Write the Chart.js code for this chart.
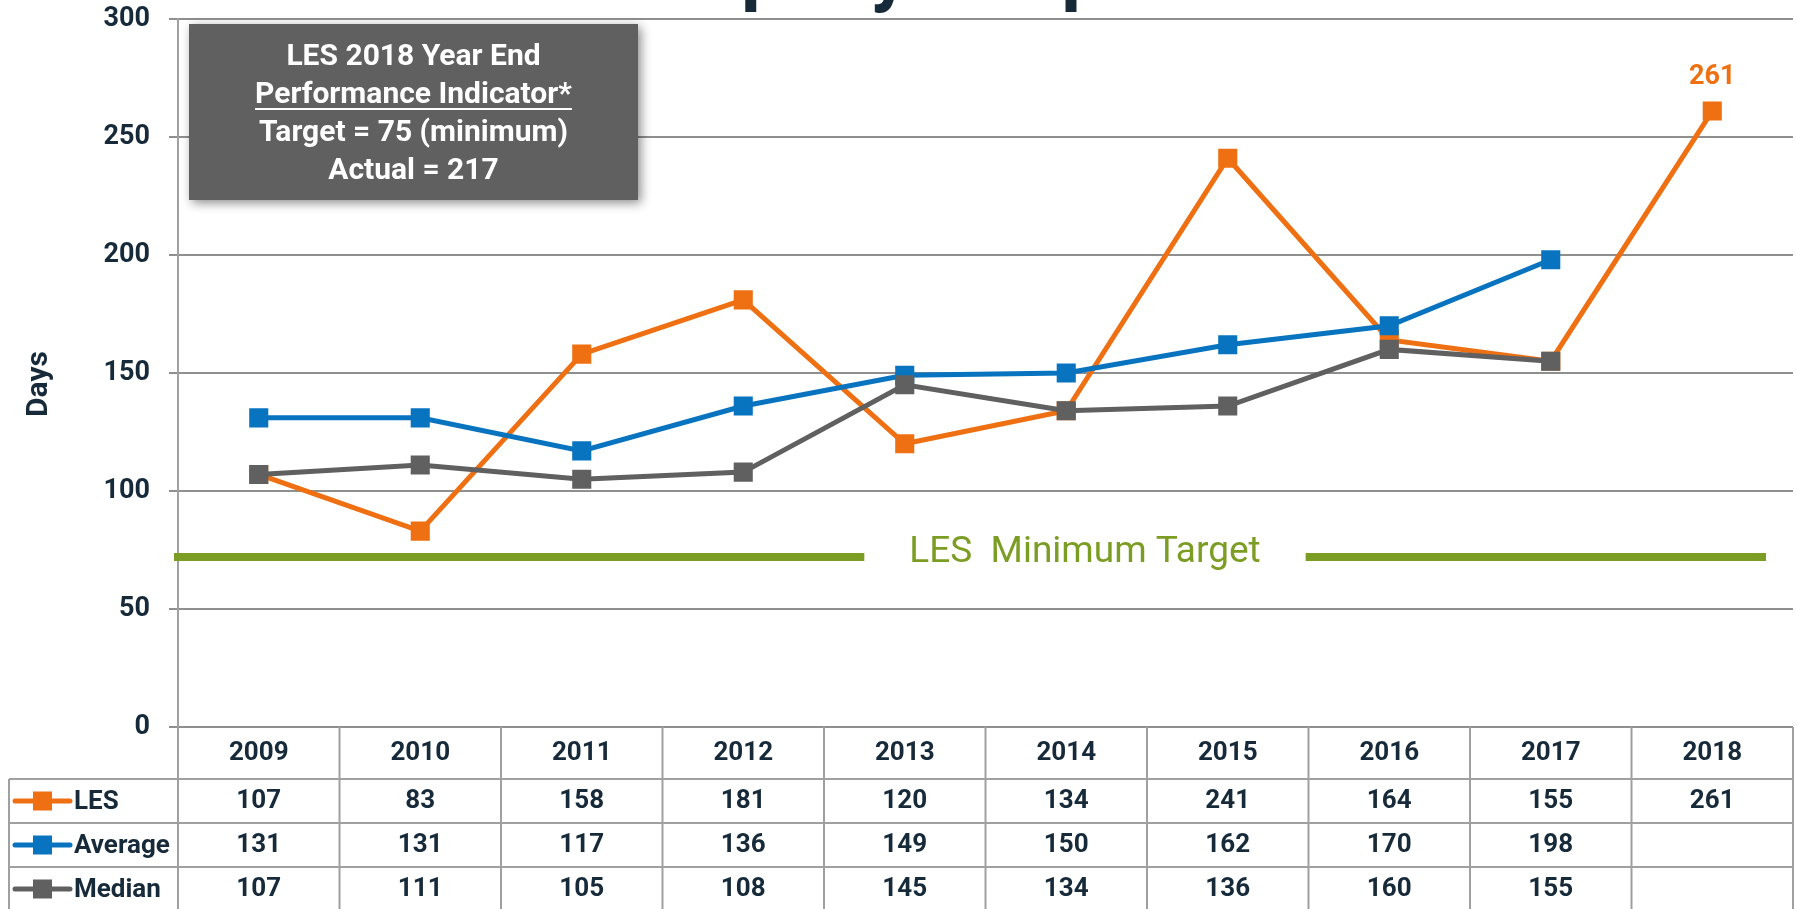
<!DOCTYPE html>
<html>
<head>
<meta charset="utf-8">
<script src="https://cdn.jsdelivr.net/npm/chart.js@4.4.1/dist/chart.umd.min.js"></script>
<style>
  html, body { margin: 0; padding: 0; background: #fff; }
  canvas { display: block; }
</style>
</head>
<body>
<canvas id="daysChart" width="1797" height="909"></canvas>
<script>
const years = ["2009", "2010", "2011", "2012", "2013", "2014", "2015", "2016", "2017", "2018"];
const lesDays = [107, 83, 158, 181, 120, 134, 241, 164, 155, 261];
const averageDays = [131, 131, 117, 136, 149, 150, 162, 170, 198, null];
const medianDays = [107, 111, 105, 108, 145, 134, 136, 160, 155, null];
const seriesNames = ["LES", "Average", "Median"];
const targetLevel = 72;
const targetLabel = "LES  Minimum Target";
const boxLines = ["LES 2018 Year End", "Performance Indicator*", "Target = 75 (minimum)", "Actual = 217"];
const chartTitle = "Company Response Time";

const ORANGE = "#ee7012";
const BLUE = "#0874c0";
const GRAY = "#606060";
const GREEN = "#7c9d24";
const NAVY = "#172a3a";
const LINES = "#a0a0a0";

Chart.defaults.font.family = "Roboto";

// table under the plot, label for 2018, box, target line
const extras = {
  id: "extras",
  afterDraw(chart) {
    const ctx = chart.ctx;
    const area = chart.chartArea;
    const x = chart.scales.x;
    const y = chart.scales.y;
    const colW = (area.right - area.left) / years.length;

    // cut-off title at the very top
    ctx.save();
    ctx.font = "bold 78px Roboto";
    ctx.fillStyle = NAVY;
    ctx.textAlign = "left";
    ctx.textBaseline = "alphabetic";
    ctx.fillText(chartTitle, 741 - ctx.measureText("Com").width, -4);
    ctx.restore();

    // Days
    ctx.save();
    ctx.translate(39.5, 384);
    ctx.rotate(-Math.PI / 2);
    ctx.font = "bold 30px Roboto";
    ctx.fillStyle = NAVY;
    ctx.textAlign = "center";
    ctx.textBaseline = "middle";
    ctx.fillText("Days", 0, 0);
    ctx.restore();

    // target line with label
    const ty = y.getPixelForValue(targetLevel);
    ctx.save();
    ctx.font = "37px Roboto";
    const tw = ctx.measureText(targetLabel).width;
    const tx = area.left + (area.right - area.left) * 0.5616;
    ctx.strokeStyle = GREEN;
    ctx.lineWidth = 8;
    ctx.beginPath();
    ctx.moveTo(area.left - 4, ty);
    ctx.lineTo(tx - tw / 2 - 45, ty);
    ctx.moveTo(tx + tw / 2 + 45, ty);
    ctx.lineTo(area.right - 27, ty);
    ctx.stroke();
    ctx.fillStyle = GREEN;
    ctx.textAlign = "center";
    ctx.textBaseline = "alphabetic";
    ctx.fillText(targetLabel, tx, ty + 5);
    ctx.restore();

    // value label on last LES point
    const last = chart.getDatasetMeta(0).data[years.length - 1];
    ctx.save();
    ctx.font = "bold 27px Roboto";
    ctx.fillStyle = ORANGE;
    ctx.textAlign = "center";
    ctx.textBaseline = "middle";
    ctx.fillText(String(lesDays[years.length - 1]), last.x, last.y - 34);
    ctx.restore();

    // grey box
    const bx = area.left + 11, by = area.top + 5, bw = 449, bh = 176;
    ctx.save();
    ctx.shadowColor = "rgba(0,0,0,0.45)";
    ctx.shadowBlur = 10;
    ctx.shadowOffsetX = 3;
    ctx.shadowOffsetY = 3;
    ctx.fillStyle = "#606060";
    ctx.fillRect(bx, by, bw, bh);
    ctx.restore();
    ctx.save();
    ctx.font = "bold 30px Roboto";
    ctx.fillStyle = "#ffffff";
    ctx.textAlign = "center";
    ctx.textBaseline = "middle";
    boxLines.forEach((t, i) => {
      const ly = by + 33 + i * 38;
      ctx.fillText(t, bx + bw / 2, ly);
      if (i === 1) {
        const w = ctx.measureText(t).width;
        ctx.fillRect(bx + bw / 2 - w / 2, ly + 13, w, 2);
      }
    });
    ctx.restore();

    // data table
    const top = area.bottom;
    const rows = [top, top + 52, top + 96, top + 140, top + 184];
    const leftEdge = 9;
    ctx.save();
    ctx.strokeStyle = LINES;
    ctx.lineWidth = 2;
    ctx.beginPath();
    for (let r = 1; r < rows.length; r++) {
      ctx.moveTo(leftEdge, rows[r]);
      ctx.lineTo(area.right, rows[r]);
    }
    ctx.moveTo(leftEdge, rows[1]);
    ctx.lineTo(leftEdge, rows[4]);
    for (let i = 0; i <= years.length; i++) {
      const vx = x.getPixelForValue(i) - colW / 2;
      ctx.moveTo(vx, top);
      ctx.lineTo(vx, rows[4]);
    }
    ctx.stroke();

    ctx.font = "bold 26px Roboto";
    ctx.fillStyle = NAVY;
    ctx.textAlign = "center";
    ctx.textBaseline = "middle";
    const series = [lesDays, averageDays, medianDays];
    years.forEach((yr, i) => {
      const cx = x.getPixelForValue(i);
      ctx.fillText(yr, cx, (rows[0] + rows[1]) / 2);
      series.forEach((s, k) => {
        if (s[i] !== null) ctx.fillText(String(s[i]), cx, (rows[k + 1] + rows[k + 2]) / 2);
      });
    });

    // legend keys in first column
    const colors = [ORANGE, BLUE, GRAY];
    seriesNames.forEach((name, k) => {
      const cy = (rows[k + 1] + rows[k + 2]) / 2;
      ctx.strokeStyle = colors[k];
      ctx.lineWidth = 5;
      ctx.lineCap = "round";
      ctx.beginPath();
      ctx.moveTo(15, cy);
      ctx.lineTo(70, cy);
      ctx.stroke();
      ctx.fillStyle = colors[k];
      ctx.fillRect(33, cy - 9.5, 19, 19);
      ctx.fillStyle = NAVY;
      ctx.textAlign = "left";
      ctx.fillText(name, 74, cy + 1);
    });
    ctx.restore();
  }
};

function lineSet(label, data, color, order) {
  return {
    label: label,
    data: data,
    borderColor: color,
    backgroundColor: color,
    borderWidth: 5,
    pointStyle: "rect",
    pointRadius: 13.5,
    pointHoverRadius: 13.5,
    pointBorderWidth: 0,
    tension: 0,
    order: order
  };
}

new Chart(document.getElementById("daysChart").getContext("2d"), {
  type: "line",
  data: {
    labels: years,
    datasets: [
      lineSet(seriesNames[0], lesDays, ORANGE, 3),
      lineSet(seriesNames[1], averageDays, BLUE, 2),
      lineSet(seriesNames[2], medianDays, GRAY, 1)
    ]
  },
  options: {
    responsive: false,
    maintainAspectRatio: false,
    animation: false,
    layout: { autoPadding: false, padding: { top: 19, right: 4, left: 0, bottom: 0 } },
    plugins: {
      legend: { display: false },
      tooltip: { enabled: false }
    },
    scales: {
      x: {
        offset: true,
        grid: { display: false },
        border: { display: false },
        ticks: { display: false },
        afterFit(s) { s.height = 182; }
      },
      y: {
        min: 0,
        max: 300,
        ticks: {
          stepSize: 50,
          color: NAVY,
          padding: 19,
          font: { size: 27, weight: "bold" }
        },
        grid: { color: "#8f8f8f", lineWidth: 2, tickLength: 9 },
        border: { color: LINES, width: 2 },
        afterFit(s) {
          s.width = 178;
          s.paddingTop = 0;
          s.paddingBottom = 0;
        }
      }
    }
  },
  plugins: [extras]
});
</script>
</body>
</html>
